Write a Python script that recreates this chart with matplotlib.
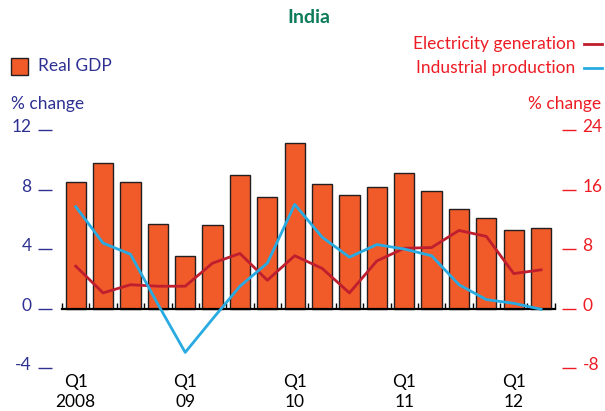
import numpy as np
import matplotlib
matplotlib.use('Agg')
import matplotlib.pyplot as plt
import matplotlib.transforms as mtransforms
from matplotlib.patches import Rectangle
from matplotlib.lines import Line2D

plt.rcParams['font.family'] = ['Lato', 'DejaVu Sans']
plt.rcParams['axes.unicode_minus'] = False

# quarterly data, 2008 Q1 .. 2012 Q2
quarters = ['2008Q1', '2008Q2', '2008Q3', '2008Q4',
            '2009Q1', '2009Q2', '2009Q3', '2009Q4',
            '2010Q1', '2010Q2', '2010Q3', '2010Q4',
            '2011Q1', '2011Q2', '2011Q3', '2011Q4',
            '2012Q1', '2012Q2']
real_gdp = [8.5, 9.8, 8.5, 5.7, 3.5, 5.6, 9.0, 7.5, 11.1, 8.4,
            7.6, 8.2, 9.1, 7.9, 6.7, 6.1, 5.3, 5.4]
# right axis (% change)
electricity = [5.7, 2.1, 3.2, 3.0, 3.0, 6.1, 7.4, 3.8, 7.1, 5.4,
               2.1, 6.4, 8.1, 8.2, 10.5, 9.7, 4.7, 5.2]
industrial = [13.7, 8.8, 7.3, 0.6, -5.9, -1.4, 3.0, 6.1, 14.0, 9.6,
              6.9, 8.6, 8.0, 7.1, 3.2, 1.2, 0.7, -0.1]
label_idx = [0, 4, 8, 12, 16]
label_txt = ['Q1\n2008', 'Q1\n09', 'Q1\n10', 'Q1\n11', 'Q1\n12']

navy = '#2E3192'
red = '#ED1C24'
orange = '#F15A29'
elec_col = '#BE1E2D'
ind_col = '#29ABE2'
fs = 12.5

fig = plt.figure(figsize=(6.05, 4.11), dpi=100)
ax = fig.add_axes([0.1025, 0.1046, 0.8145, 0.579])
x = np.arange(len(quarters))

ax.bar(x, real_gdp, width=0.74, color=orange, edgecolor='#231F20', linewidth=1.0, zorder=2)
ax.set_xlim(-0.5, len(quarters) - 0.5)
ax.set_ylim(-4, 12)
ax.set_yticks([-4, 0, 4, 8, 12])

for s in ['top', 'right']:
    ax.spines[s].set_visible(False)
ax.spines['left'].set_position(('outward', 7))
ax.spines['left'].set_visible(False)
ax.spines['bottom'].set_position(('data', 0))
ax.spines['bottom'].set_linewidth(1.6)
ax.spines['bottom'].set_zorder(3)
ax.tick_params(axis='y', colors=navy, length=10, width=1.0, pad=5, labelsize=fs)

ax.set_xticks(np.arange(len(quarters) + 1) - 0.5)
ax.tick_params(axis='x', direction='in', length=4, width=1.0, labelbottom=False)

for i, t in zip(label_idx, label_txt):
    ax.text(i, -0.025, t, transform=ax.get_xaxis_transform(), ha='center', va='top',
            fontsize=fs, color='black', linespacing=1.3)

ax2 = ax.twinx()
ax2.plot(x, electricity, color=elec_col, linewidth=2.0, zorder=4)
ax2.plot(x, industrial, color=ind_col, linewidth=2.0, zorder=4)
ax2.set_ylim(-8, 24)
ax2.set_yticks([-8, 0, 8, 16, 24])
for s in ['top', 'left', 'bottom']:
    ax2.spines[s].set_visible(False)
ax2.spines['right'].set_position(('outward', 5))
ax2.spines['right'].set_visible(False)
ax2.tick_params(axis='y', colors=red, length=10, width=1.0, pad=5, labelsize=fs)

# tick labels sit a little above their tick marks, like the original
shift = mtransforms.ScaledTranslation(0, 3 / 72, fig.dpi_scale_trans)
for lab in ax.get_yticklabels() + ax2.get_yticklabels():
    lab.set_transform(lab.get_transform() + shift)

# titles and legends
fig.text(0.51, 0.958, 'India', ha='center', va='center', fontsize=14,
         fontweight='bold', color='#0E7C5A')
fig.text(0.018, 0.747, '% change', ha='left', va='center', fontsize=fs, color=navy)
fig.text(0.993, 0.747, '% change', ha='right', va='center', fontsize=fs, color=red)

fig.patches.append(Rectangle((0.019, 0.818), 0.028, 0.042, transform=fig.transFigure,
                             facecolor=orange, edgecolor='#231F20', linewidth=1.0))
fig.text(0.063, 0.839, 'Real GDP', ha='left', va='center', fontsize=fs, color=navy)

fig.text(0.951, 0.893, 'Electricity generation', ha='right', va='center', fontsize=fs, color=red)
fig.text(0.951, 0.834, 'Industrial production', ha='right', va='center', fontsize=fs, color=red)
fig.lines.append(Line2D([0.965, 0.995], [0.893, 0.893], transform=fig.transFigure,
                        color=elec_col, linewidth=2.0))
fig.lines.append(Line2D([0.965, 0.995], [0.834, 0.834], transform=fig.transFigure,
                        color=ind_col, linewidth=2.0))

fig.savefig('out.png', dpi=100)
